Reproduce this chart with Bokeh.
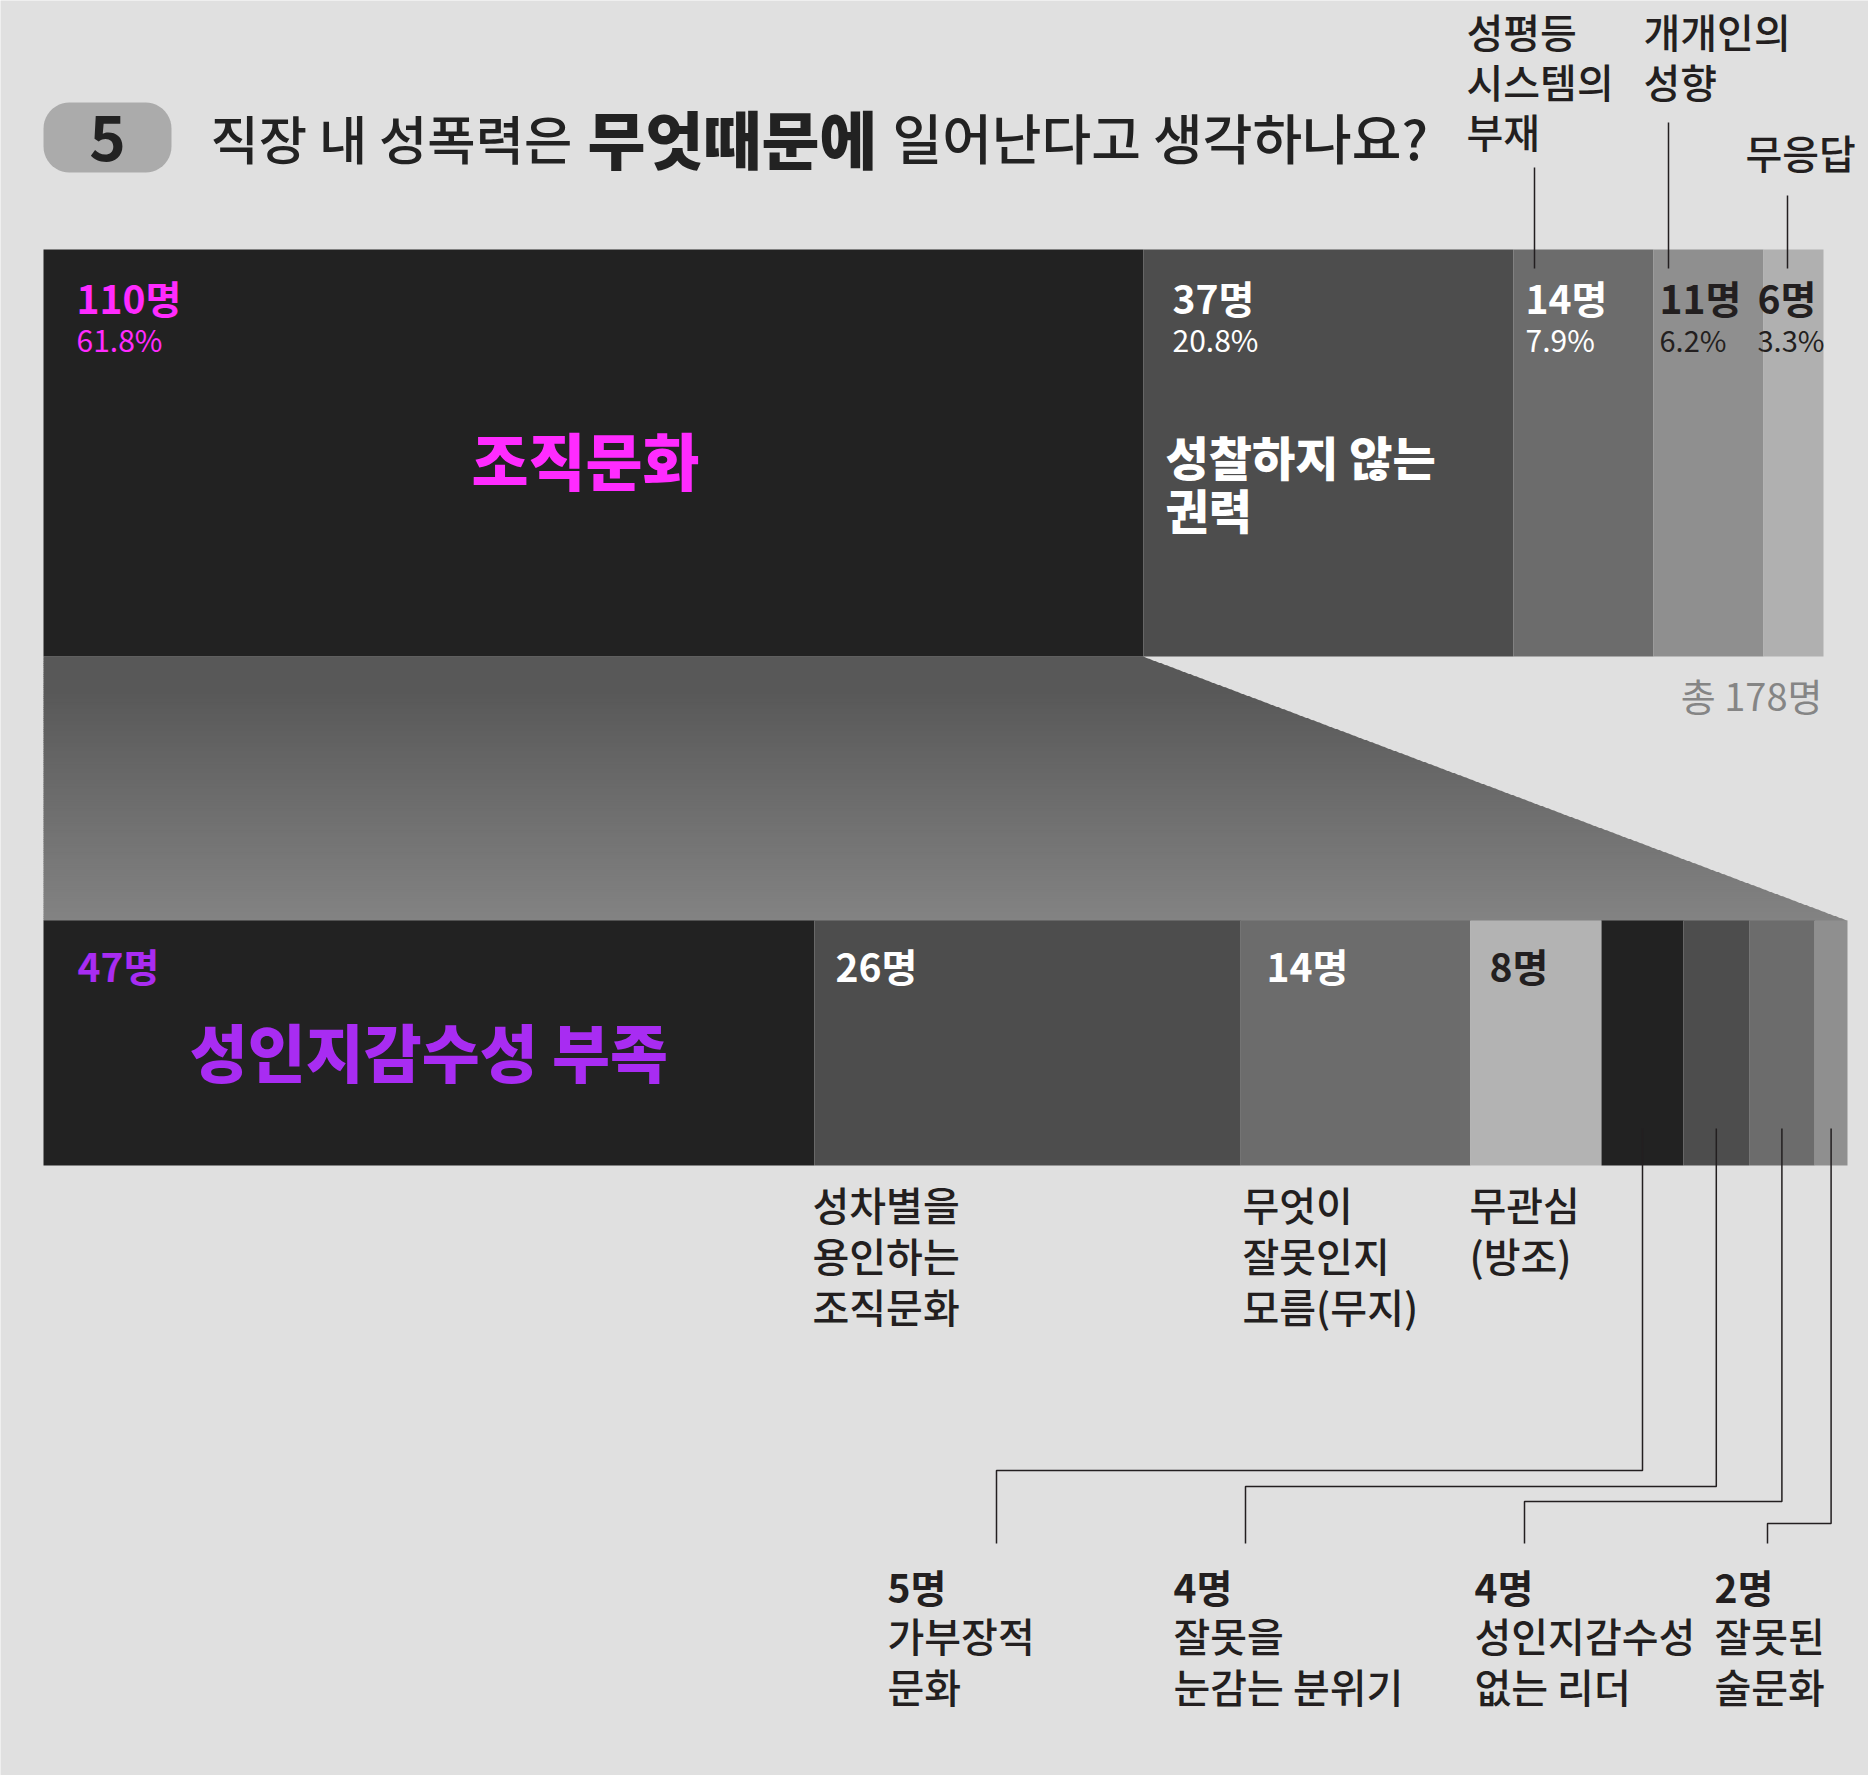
import numpy as np
from bokeh.plotting import figure
from bokeh.models import Range1d, ColumnDataSource
from bokeh.core.properties import value
from bokeh.embed import file_html
from bokeh.resources import INLINE

# ---------------- data ----------------
total_label = "총 178명"
top_categories = ["조직문화", "성찰하지 않는 권력", "성평등 시스템의 부재", "개개인의 성향", "무응답"]
top_counts = [110, 37, 14, 11, 6]
top_pct = ["61.8%", "20.8%", "7.9%", "6.2%", "3.3%"]

low_categories = ["성인지감수성 부족", "성차별을 용인하는 조직문화", "무엇이 잘못인지 모름(무지)",
                  "무관심(방조)", "가부장적 문화", "잘못을 눈감는 분위기",
                  "성인지감수성 없는 리더", "잘못된 술문화"]
low_counts = [47, 26, 14, 8, 5, 4, 4, 2]

title_parts = ["직장 내 성폭력은", "무엇때문에", "일어난다고 생각하나요?"]
badge_text = "5"

# ---------------- styles / layout ----------------
BG = "#e0e0e0"
DARK = "#231f20"
MAGENTA = "#ff2bff"
PURPLE = "#a82cf2"
F_REG = "'Noto Sans CJK KR', sans-serif"
F_MED = "'Noto Sans CJK KR Medium', 'Noto Sans CJK KR', sans-serif"
F_BLK = "'Noto Sans CJK KR Black', 'Noto Sans CJK KR', sans-serif"

W, H = 1868, 1775
X0 = 43
TOP_Y0, TOP_Y1 = 249, 656
TOP_W = 1780
LOW_Y0, LOW_Y1 = 920, 1165
LOW_W = 1804

top_colors = ["#222222", "#4d4d4d", "#6c6c6c", "#8f8f8f", "#b0b0b0"]
low_colors = ["#222222", "#4d4d4d", "#6c6c6c", "#b3b3b3", "#222222", "#4d4d4d", "#6c6c6c", "#8f8f8f"]

p = figure(width=W, height=H, x_range=Range1d(0, W), y_range=Range1d(H, 0),
           output_backend="svg", toolbar_location=None, min_border=0,
           background_fill_color=BG, border_fill_color=BG, outline_line_color=None)
p.axis.visible = False
p.grid.visible = False


def txt(x, y, s, size, color, font=F_REG, bold=False, align="left", baseline="middle"):
    p.text(x=[x], y=[y], text=[s], text_font=value(font), text_font_size=f"{size}px",
           text_color=color, text_align=align, text_baseline=baseline,
           text_font_style="bold" if bold else "normal")


# ---------------- scales ----------------
top_total = sum(top_counts)
top_unit = TOP_W / top_total
top_cum = np.concatenate([[0], np.cumsum(top_counts)])
top_left = X0 + top_cum[:-1] * top_unit
top_right = X0 + top_cum[1:] * top_unit

low_total = sum(low_counts)
low_unit = LOW_W / low_total
low_cum = np.concatenate([[0], np.cumsum(low_counts)])
low_left = X0 + low_cum[:-1] * low_unit
low_right = X0 + low_cum[1:] * low_unit

# ---------------- gradient connector ----------------
n_bands = 120
xr_top = top_right[0]
xr_bot = low_right[-1]
xs, ys, cols = [], [], []
for i in range(n_bands):
    ya = TOP_Y1 + (LOW_Y0 - TOP_Y1) * i / n_bands
    yb = TOP_Y1 + (LOW_Y0 - TOP_Y1) * (i + 1) / n_bands
    xa = xr_top + (xr_bot - xr_top) * (ya - TOP_Y1) / (LOW_Y0 - TOP_Y1)
    xb = xr_top + (xr_bot - xr_top) * (yb - TOP_Y1) / (LOW_Y0 - TOP_Y1)
    t = min(max(((ya + yb) / 2 - 690) / (LOW_Y0 - 690), 0), 1)
    g = int(round(0x58 + (0x83 - 0x58) * t))
    xs.append([X0, xa, xb, X0])
    ys.append([ya, ya, yb + 0.6, yb + 0.6])
    cols.append("#%02x%02x%02x" % (g, g, g))
p.patches(xs=xs, ys=ys, fill_color=cols, line_color=None)

# ---------------- bars ----------------
p.quad(source=ColumnDataSource(dict(l=top_left, r=top_right, c=top_colors)),
       left="l", right="r", top=TOP_Y0, bottom=TOP_Y1, fill_color="c", line_color=None)
p.quad(source=ColumnDataSource(dict(l=low_left, r=low_right, c=low_colors)),
       left="l", right="r", top=LOW_Y0, bottom=LOW_Y1, fill_color="c", line_color=None)

# ---------------- badge + title ----------------
bx0, bx1, by0, by1, rad = 43, 171, 102, 172, 26
pts_x, pts_y = [], []
for cx, cy, a0 in [(bx1 - rad, by0 + rad, -90), (bx1 - rad, by1 - rad, 0),
                   (bx0 + rad, by1 - rad, 90), (bx0 + rad, by0 + rad, 180)]:
    ang = np.radians(np.linspace(a0, a0 + 90, 12))
    pts_x += list(cx + rad * np.cos(ang))
    pts_y += list(cy + rad * np.sin(ang))
p.patch(pts_x, pts_y, fill_color="#ababab", line_color=None)
txt((bx0 + bx1) / 2, 137, badge_text, 62, "#222222", bold=True, align="center")

txt(210, 136, title_parts[0], 52.5, "#222222", font=F_MED)
txt(587, 136, title_parts[1], 63, "#222222", font=F_BLK, bold=True)
txt(892, 136, title_parts[2], 54, "#222222", font=F_MED)

# ---------------- top bar labels ----------------
top_label_x = [76, 1172, 1525, 1659, 1757]
top_label_col = [MAGENTA, "white", "white", DARK, DARK]
for i in range(len(top_counts)):
    txt(top_label_x[i], 296, f"{top_counts[i]}명", 39, top_label_col[i], bold=True)
    txt(top_label_x[i], 338, top_pct[i], 29 if i >= 3 else 30, top_label_col[i])

txt((top_left[0] + top_right[0]) / 2 - 8, 458, top_categories[0], 62, MAGENTA, font=F_BLK, bold=True,
    align="center")
txt(1165, 455, "성찰하지 않는", 47, "white", font=F_BLK, bold=True)
txt(1165, 508, "권력", 47, "white", font=F_BLK, bold=True)

# labels above the small top segments
top_ann = [(1466, ["성평등", "시스템의", "부재"], 30), (1643, ["개개인의", "성향"], 30), (1745, ["무응답"], 151)]
for x, lines, y0 in top_ann:
    for k, s in enumerate(lines):
        txt(x, y0 + 50 * k, s, 40, DARK, font=F_MED)
top_lead_x = [1534, 1668, 1787]
top_lead_y = [167, 122, 195]
p.segment(x0=top_lead_x, y0=top_lead_y, x1=top_lead_x, y1=[268] * 3, line_color=DARK, line_width=1.5)

txt(1822, 694, total_label, 38, "#858585", align="right")

# ---------------- lower bar labels ----------------
low_label_x = [77, 835, 1266, 1489]
low_label_col = [PURPLE, "white", "white", DARK]
for i in range(4):
    txt(low_label_x[i], 964, f"{low_counts[i]}명", 39, low_label_col[i], bold=True)

txt((low_left[0] + low_right[0]) / 2, 1049, low_categories[0], 63, PURPLE, font=F_BLK, bold=True,
    align="center")

below = [(812, ["성차별을", "용인하는", "조직문화"]), (1242, ["무엇이", "잘못인지", "모름(무지)"]),
         (1469, ["무관심", "(방조)"])]
for x, lines in below:
    for k, s in enumerate(lines):
        txt(x, 1203 + 51 * k, s, 40, DARK, font=F_MED)

# leader lines for the four small segments
mid = (low_left[4:] + low_right[4:]) / 2
elbow_y = [1470, 1486, 1501, 1523]
end_x = [996, 1245, 1524, 1767]
lx, ly = [], []
for m, ey, ex in zip(mid, elbow_y, end_x):
    lx.append([m, m, ex, ex])
    ly.append([1128, ey, ey, 1543])
p.multi_line(xs=lx, ys=ly, line_color=DARK, line_width=1.5)

small_x = [887, 1173, 1474, 1714]
small_lines = [["가부장적", "문화"], ["잘못을", "눈감는 분위기"], ["성인지감수성", "없는 리더"], ["잘못된", "술문화"]]
for j in range(4):
    txt(small_x[j], 1585, f"{low_counts[4 + j]}명", 39, DARK, bold=True)
    for k, s in enumerate(small_lines[j]):
        txt(small_x[j], 1634 + 51 * k, s, 40, DARK, font=F_MED)

open("out.html", "w").write(file_html(p, INLINE))
